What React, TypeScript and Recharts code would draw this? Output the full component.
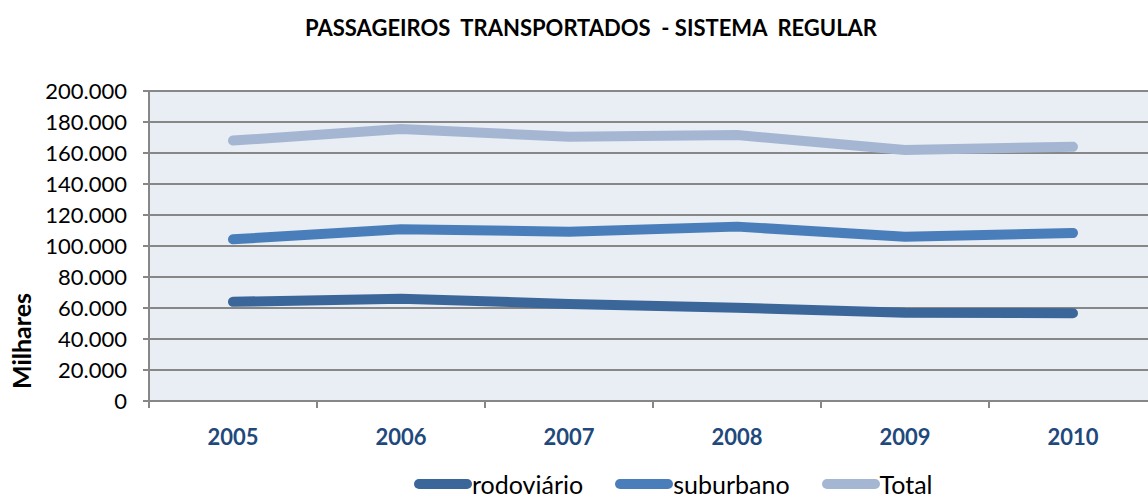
import { CartesianGrid, Label, Legend, Line, LineChart, XAxis, YAxis } from 'recharts';

const years = ['2005', '2006', '2007', '2008', '2009', '2010'];
const rodoviario = [64000, 66000, 62600, 60200, 57000, 56600];
const suburbano = [104300, 110800, 109200, 112500, 106000, 108400];
const total = [168000, 175500, 170500, 171600, 162000, 164000];
const yTicks = [0, 20000, 40000, 60000, 80000, 100000, 120000, 140000, 160000, 180000, 200000];
const frameTicks = [0, 1, 2, 3, 4, 5, 6];

const FONT = 'Lato, "Open Sans", sans-serif';
const GRID = '#878787';

const series = [
  { key: 'rodoviario', name: 'rodoviário', color: '#3B6699' },
  { key: 'suburbano', name: 'suburbano', color: '#4A7EBB' },
  { key: 'total', name: 'Total', color: '#A5B6D3' },
];

const data = years.map((year, i) => ({
  year,
  rodoviario: rodoviario[i],
  suburbano: suburbano[i],
  total: total[i],
}));

const thousands = (v: number) => String(v).replace(/\B(?=(\d{3})+(?!\d))/g, '.');

function LegendContent() {
  return (
    <div style={{ display: 'flex', alignItems: 'center', marginLeft: 414, marginTop: 2, height: 28, fontFamily: FONT, fontSize: 25, color: '#000' }}>
      {series.map((s) => (
        <div key={s.key} style={{ display: 'flex', alignItems: 'center', marginRight: 32 }}>
          <svg width={58} height={12}>
            <line x1={5} y1={6} x2={53} y2={6} stroke={s.color} strokeWidth={10} strokeLinecap="round" />
          </svg>
          <span style={{ lineHeight: '28px' }}>{s.name}</span>
        </div>
      ))}
    </div>
  );
}

export default function App() {
  return (
    <div style={{ position: 'absolute', left: 0, top: 0, width: 1148, height: 498, overflow: 'hidden', background: '#fff' }}>
      <div
        style={{
          position: 'absolute',
          top: 14,
          left: 34,
          width: 1114,
          textAlign: 'center',
          fontFamily: FONT,
          fontWeight: 700,
          fontSize: 22,
          whiteSpace: 'pre',
          color: '#000',
        }}
      >
        {'PASSAGEIROS  TRANSPORTADOS  - SISTEMA  REGULAR'}
      </div>
      <LineChart width={1160} height={498} data={data} margin={{ top: 91, right: 3, bottom: 0, left: 0 }}>
        <CartesianGrid vertical={false} stroke={GRID} strokeWidth={2} fill="#E9EDF4" xAxisId="years" />
        <XAxis
          xAxisId="frame"
          type="number"
          dataKey={() => 3}
          domain={[0, 6]}
          allowDataOverflow
          ticks={frameTicks}
          interval={0}
          tickFormatter={() => ''}
          height={10}
          tickSize={7}
          axisLine={{ stroke: GRID, strokeWidth: 2 }}
          tickLine={{ stroke: GRID, strokeWidth: 2 }}
        />
        <XAxis
          xAxisId="years"
          dataKey="year"
          scale="band"
          height={57}
          axisLine={false}
          tickLine={false}
          tickSize={0}
          tickMargin={18}
          tick={{ fill: '#1F497D', fontSize: 22, fontWeight: 700, fontFamily: FONT }}
        />
        <YAxis
          width={149}
          domain={[0, 200000]}
          ticks={yTicks}
          interval={0}
          tickFormatter={thousands}
          tickSize={6}
          tickMargin={16}
          axisLine={{ stroke: GRID, strokeWidth: 2 }}
          tickLine={{ stroke: GRID, strokeWidth: 2 }}
          tick={{ fill: '#000', fontSize: 22, fontFamily: FONT }}
        >
          <Label
            content={({ viewBox }: any) => (
              <text
                x={0}
                y={0}
                transform={`translate(31, ${viewBox.y + viewBox.height - 60}) rotate(-90)`}
                textAnchor="middle"
                fontFamily={FONT}
                fontWeight={700}
                fontSize={25}
                fill="#000"
              >
                Milhares
              </text>
            )}
          />
        </YAxis>
        <Legend verticalAlign="bottom" height={30} content={<LegendContent />} />
        {series.map((s) => (
          <Line
            key={s.key}
            xAxisId="years"
            dataKey={s.key}
            name={s.name}
            type="linear"
            stroke={s.color}
            strokeWidth={10}
            strokeLinecap="round"
            strokeLinejoin="round"
            dot={false}
            activeDot={false}
            isAnimationActive={false}
          />
        ))}
      </LineChart>
    </div>
  );
}
